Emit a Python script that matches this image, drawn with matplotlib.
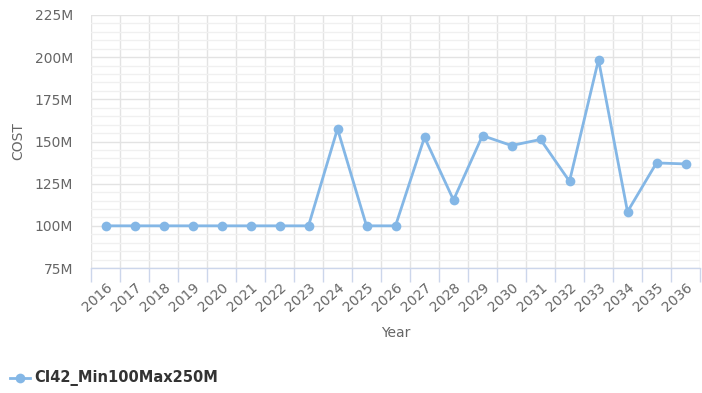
import matplotlib
matplotlib.use("Agg")
import matplotlib.pyplot as plt
from matplotlib.ticker import FixedLocator, MultipleLocator, FuncFormatter

years = [str(y) for y in range(2016, 2037)]
cost_m = [100, 100, 100, 100, 100, 100, 100, 100, 157.5, 100, 100,
          152.5, 115.3, 153.5, 147.6, 151.2, 126.4, 198.5, 108.4, 137.3, 136.7]
series_name = "CI42_Min100Max250M"

line_color = "#84b7e6"
text_color = "#666666"

plt.rcParams["font.family"] = ["DejaVu Sans"]

fig = plt.figure(figsize=(7.02, 3.93), dpi=100)
ax = fig.add_axes([91 / 702, 1 - 268 / 393, 609 / 702, 253 / 393])

x = list(range(len(years)))
ax.plot(x, cost_m, color=line_color, lw=2, marker="o", ms=7,
        markeredgewidth=0, zorder=3, clip_on=False)

ax.set_xlim(-0.5, len(years) - 0.5)
ax.set_ylim(75, 225)

# y axis: major every 25M, minor every 5M
ax.yaxis.set_major_locator(MultipleLocator(25))
ax.yaxis.set_minor_locator(MultipleLocator(5))
ax.yaxis.set_major_formatter(FuncFormatter(lambda v, p: f"{int(v)}M"))
ax.grid(which="major", axis="y", color="#e3e3e3", lw=1)
ax.grid(which="minor", axis="y", color="#f0f0f0", lw=1)

# x axis: labels at category centres, ticks and grid at boundaries
ax.xaxis.set_major_locator(FixedLocator(x))
ax.set_xticklabels(years)
ax.xaxis.set_minor_locator(FixedLocator([i - 0.5 for i in range(len(years) + 1)]))
ax.grid(which="minor", axis="x", color="#e3e3e3", lw=1)
ax.tick_params(axis="x", which="major", length=0, pad=9, labelsize=10,
               labelcolor=text_color)
ax.tick_params(axis="x", which="minor", length=10, color="#ccd6eb", width=1)
ax.tick_params(axis="y", which="both", length=0, pad=13, labelsize=10,
               labelcolor=text_color)
for lab in ax.get_xticklabels():
    lab.set_rotation(42)
    lab.set_ha("right")
    lab.set_va("top")
    lab.set_rotation_mode("anchor")

for side in ("top", "right", "left"):
    ax.spines[side].set_visible(False)
ax.spines["bottom"].set_color("#ccd6eb")
ax.spines["bottom"].set_linewidth(1)
ax.set_axisbelow(True)

ax.set_ylabel("COST", color=text_color, fontsize=10, labelpad=7)
ax.set_xlabel("Year", color=text_color, fontsize=10, labelpad=8)

# legend entry below the plot
fig.lines.append(plt.Line2D([10 / 702, 30 / 702], [1 - 378 / 393] * 2,
                            transform=fig.transFigure, color=line_color, lw=2))
fig.lines.append(plt.Line2D([20 / 702], [1 - 378 / 393], marker="o", ms=7,
                            markeredgewidth=0, transform=fig.transFigure,
                            color=line_color))
fig.text(34 / 702, 1 - 378 / 393, series_name, fontsize=10.5, fontweight="bold",
         color="#333333", va="center", ha="left")

fig.savefig("out.png", dpi=100)
